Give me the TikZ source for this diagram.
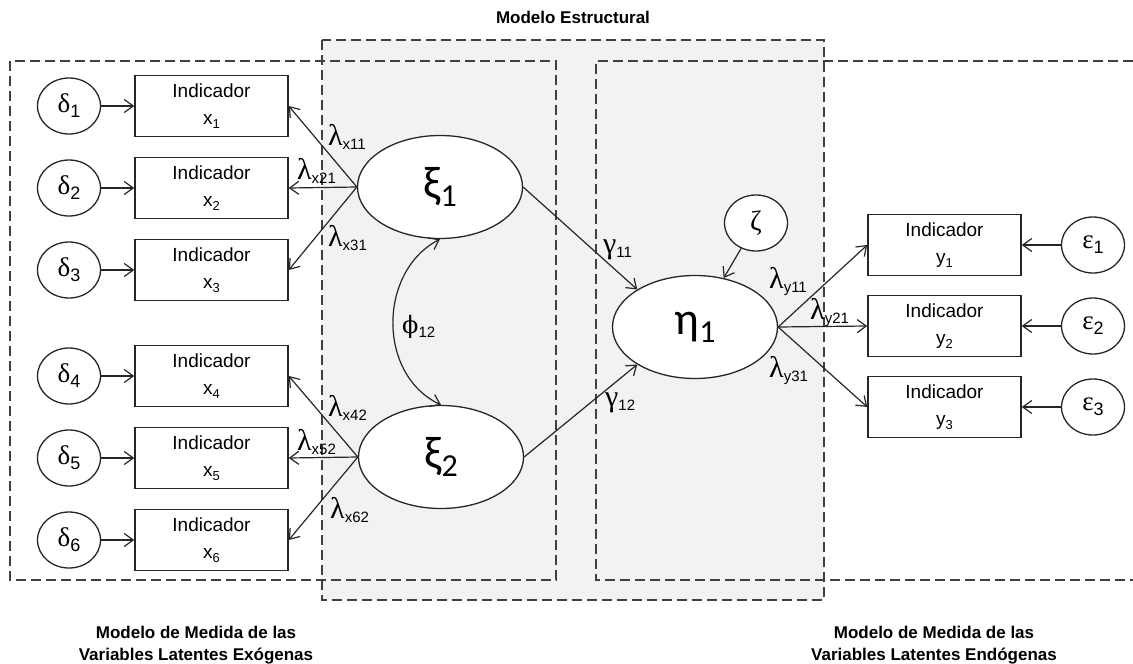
\documentclass[tikz,border=0pt]{standalone}
\usepackage{fontspec}
\setmainfont{Liberation Sans}
\newfontfamily\grk{Liberation Serif}
\newfontfamily\dvs{DejaVu Serif}
\newfontfamily\clb{Carlito}
\usetikzlibrary{arrows.meta,shapes.geometric}
\newcommand\fs[1]{\fontsize{#1}{#1}\selectfont}
\newcommand\lab[2]{{\grk\fs{30}#1}\raisebox{-4pt}{\fs{15}#2}}
\newcommand\err[2]{{\grk\fs{27}#1}\raisebox{-5pt}{\fs{18}#2}}
\newcommand\lat[2]{{\clb\fs{46}#1}\raisebox{-8pt}{\clb\fs{32}#2}}
\newcommand\ind[2]{Indicador\\#1\raisebox{-4pt}{\fs{13}#2}}
\tikzset{
  ln/.style={line width=1.2pt, draw=black!85},
  arr/.style={ln, -{Straight Barb[length=9pt,width=13pt]}},
  darr/.style={ln, {Straight Barb[length=9pt,width=13pt]}-{Straight Barb[length=9pt,width=13pt]}},
  indbox/.style={rectangle, draw=black!85, line width=1.5pt, fill=white, minimum width=153pt, minimum height=61pt, inner sep=0pt, align=center, font=\fontsize{19}{27}\selectfont},
  errc/.style={ellipse, draw=black!85, line width=1.3pt, fill=white, minimum width=63pt, minimum height=56pt, inner sep=0pt},
  latv/.style={ellipse, draw=black!85, line width=1.3pt, fill=white, minimum width=165pt, minimum height=103pt, inner sep=0pt},
  dbox/.style={draw=black!75, line width=1.8pt, dash pattern=on 10pt off 5pt},
  lbl/.style={anchor=base west, inner sep=0pt},
  ttl/.style={font=\bfseries\fontsize{17}{22}\selectfont, align=center},
}
\begin{document}
\begin{tikzpicture}[x=1pt,y=-1pt]
\useasboundingbox (0,0) rectangle (1133,664);
% boxes
\fill[black!5] (322,40) rectangle (824,600);
\draw[dbox] (322,40) rectangle (824,600);
\draw[dbox] (10,61) rectangle (556,580);
\draw[dbox] (1133,61) -- (596,61) -- (596,580) -- (1133,580);
\node[ttl] (t1) at (573,17) {Modelo Estructural};
\node[ttl] (t2) at (196,645) {Modelo de Medida de las\\Variables Latentes Exógenas};
\node[ttl] (t3) at (934,645) {Modelo de Medida de las\\Variables Latentes Endógenas};
% indicators x
\foreach \i/\y in {1/106,2/188,3/270,4/376,5/458,6/540}{
  \node[indbox] (x\i) at (211.5,\y) {\ind{x}{\i}};
  \node[errc] (d\i) at (69,\y) {\err{δ}{\i}};
  \draw[arr] (d\i) -- (x\i);
}
% indicators y
\foreach \i/\y in {1/245,2/326,3/407}{
  \node[indbox] (y\i) at (944.5,\y) {\ind{y}{\i}};
  \node[errc] (e\i) at (1093,\y) {\err{ε}{\i}};
  \draw[arr] (e\i) -- (y\i);
}
% latent
\node[latv] (xi1) at (440,187) {\lat{ξ}{1}};
\node[latv] (xi2) at (441,457) {\lat{ξ}{2}};
\node[latv] (eta) at (695,327) {\lat{η}{1}};
\node[errc] (zeta) at (756,223) {{\grk\fs{28}ζ}};
% loadings
\foreach \i in {1,2,3}{\draw[arr] (xi1.west) -- (x\i.east);}
\foreach \i in {4,5,6}{\draw[arr] (xi2.west) -- (x\i.east);}
\foreach \i in {1,2,3}{\draw[arr] (eta.east) -- (y\i.west);}
\draw[arr] (xi1.east) -- (eta.147);
\draw[arr] (xi2.east) -- (eta.213);
\draw[arr] (zeta) -- (eta);
\draw[darr] (xi1.south) .. controls +(-62,32) and +(-64,-30) .. (xi2.north);
% labels
\node[lbl] (l11) at (328,145) {\lab{λ}{x11}};
\node[lbl] (l21) at (297,179) {\lab{λ}{x21}};
\node[lbl] (l31) at (328,246) {\lab{λ}{x31}};
\node[lbl] (l42) at (328,416) {\lab{λ}{x42}};
\node[lbl] (l52) at (297,450) {\lab{λ}{x52}};
\node[lbl] (l62) at (330,518) {\lab{λ}{x62}};
\node[lbl] (g11) at (603,253) {\lab{γ}{11}};
\node[lbl] (g12) at (605,406) {\lab{γ}{12}};
\node[lbl] (ly1) at (769,288) {\lab{λ}{y11}};
\node[lbl] (ly2) at (810,319) {\lab{λ}{y21}};
\node[lbl] (ly3) at (769,377) {\lab{λ}{y31}};
\node[lbl] (phi) at (402,333) {{\dvs\fs{24}ϕ}\raisebox{-4pt}{\fs{15}12}};
\end{tikzpicture}
\end{document}
